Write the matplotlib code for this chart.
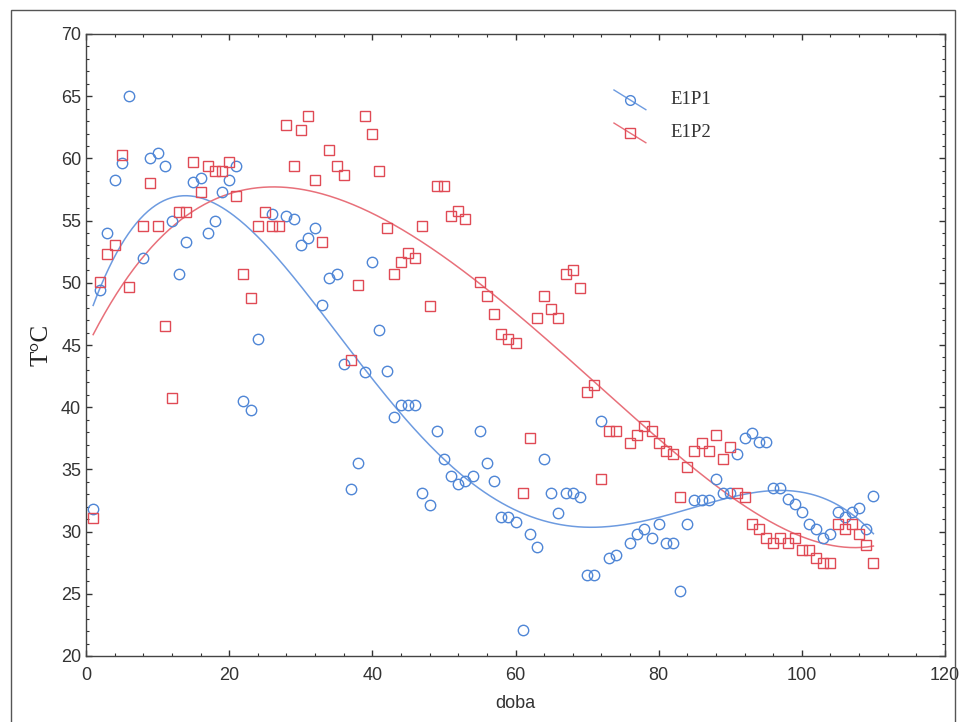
import numpy as np
import matplotlib
matplotlib.use("Agg")
import matplotlib.pyplot as plt
from matplotlib.lines import Line2D
from matplotlib.legend_handler import HandlerLine2D
from matplotlib.patches import Rectangle
from matplotlib.ticker import MultipleLocator

# ---- data ----
e1p1_x = [1, 2, 3, 4, 5, 6, 8, 9, 10, 11, 12, 13, 14, 15, 16, 17, 18, 19, 20, 21,
          22, 23, 24, 26, 28, 29, 30, 31, 32, 33, 34, 35, 36, 37, 38, 39, 40, 41, 42,
          43, 44, 45, 46, 47, 48, 49, 50, 51, 52, 53, 54, 55, 56, 57, 58, 59, 60, 61,
          62, 63, 64, 65, 66, 67, 68, 69, 70, 71, 72, 73, 74, 76, 77, 78, 79, 80, 81,
          82, 83, 84, 85, 86, 87, 88, 89, 90, 91, 92, 93, 94, 95, 96, 97, 98, 99, 100,
          101, 102, 103, 104, 105, 106, 107, 108, 109, 110]
e1p1_y = [31.8, 49.4, 54.0, 58.3, 59.6, 65.0, 52.0, 60.0, 60.4, 59.4, 55.0, 50.7, 53.3,
          58.1, 58.4, 54.0, 55.0, 57.3, 58.3, 59.4, 40.5, 39.8, 45.5, 55.5, 55.4, 55.1,
          53.0, 53.6, 54.4, 48.2, 50.4, 50.7, 43.5, 33.4, 35.5, 42.8, 51.7, 46.2, 42.9,
          39.2, 40.2, 40.2, 40.2, 33.1, 32.1, 38.1, 35.8, 34.5, 33.8, 34.1, 34.5, 38.1,
          35.5, 34.1, 31.2, 31.2, 30.8, 22.1, 29.8, 28.8, 35.8, 33.1, 31.5, 33.1, 33.1,
          32.8, 26.5, 26.5, 38.9, 27.9, 28.1, 29.1, 29.8, 30.2, 29.5, 30.6, 29.1, 29.1,
          25.2, 30.6, 32.5, 32.5, 32.5, 34.2, 33.1, 33.1, 36.2, 37.5, 37.9, 37.2, 37.2,
          33.5, 33.5, 32.6, 32.2, 31.6, 30.6, 30.2, 29.5, 29.8, 31.6, 31.2, 31.6, 31.9,
          30.2, 32.9]

e1p2_x = [1, 2, 3, 4, 5, 6, 8, 9, 10, 11, 12, 13, 14, 15, 16, 17, 18, 19, 20, 21,
          22, 23, 24, 25, 26, 27, 28, 29, 30, 31, 32, 33, 34, 35, 36, 37, 38, 39, 40,
          41, 42, 43, 44, 45, 46, 47, 48, 49, 50, 51, 52, 53, 55, 56, 57, 58, 59, 60,
          61, 62, 63, 64, 65, 66, 67, 68, 69, 70, 71, 72, 73, 74, 76, 77, 78, 79, 80,
          81, 82, 83, 84, 85, 86, 87, 88, 89, 90, 91, 92, 93, 94, 95, 96, 97, 98, 99,
          100, 101, 102, 103, 104, 105, 106, 107, 108, 109, 110]
e1p2_y = [31.1, 50.1, 52.3, 53.0, 60.3, 49.7, 54.6, 58.0, 54.6, 46.5, 40.7, 55.7, 55.7,
          59.7, 57.3, 59.4, 59.0, 59.0, 59.7, 57.0, 50.7, 48.8, 54.6, 55.7, 54.6, 54.6,
          62.7, 59.4, 62.3, 63.4, 58.3, 53.3, 60.7, 59.4, 58.7, 43.8, 49.8, 63.4, 62.0,
          59.0, 54.4, 50.7, 51.7, 52.4, 52.0, 54.6, 48.1, 57.8, 57.8, 55.4, 55.8, 55.1,
          50.1, 48.9, 47.5, 45.9, 45.5, 45.2, 33.1, 37.5, 47.2, 48.9, 47.9, 47.2, 50.7,
          51.0, 49.6, 41.2, 41.8, 34.2, 38.1, 38.1, 37.1, 37.8, 38.5, 38.1, 37.1, 36.5,
          36.2, 32.8, 35.2, 36.5, 37.1, 36.5, 37.8, 35.8, 36.8, 33.1, 32.8, 30.6, 30.2,
          29.5, 29.1, 29.5, 29.1, 29.5, 28.5, 28.5, 27.9, 27.5, 27.5, 30.6, 30.2, 30.6,
          29.8, 28.9, 27.5]

series_names = ["E1P1", "E1P2"]
x_ticks = [0, 20, 40, 60, 80, 100, 120]
y_ticks = [20, 25, 30, 35, 40, 45, 50, 55, 60, 65, 70]

blue = "#4f86d6"
red = "#e04a55"
blue_line = "#6d9be0"
red_line = "#e8707a"

fig = plt.figure(figsize=(9.6, 7.22), dpi=100)
fig.patch.set_facecolor("white")
ax = fig.add_axes([86 / 960, 1 - 656 / 722, (945 - 86) / 960, (656 - 34) / 722])

# outer frame
fig.patches.append(Rectangle((11 / 960, -0.02), (955 - 11) / 960, 1.02 - 10 / 722,
                             transform=fig.transFigure, fill=False, ec="#555555", lw=1.0))

ms = 7.5
ax.plot(e1p1_x, e1p1_y, ls="none", marker="o", ms=ms, mfc="none", mec=blue, mew=1.0, zorder=3)
ax.plot(e1p2_x, e1p2_y, ls="none", marker="s", ms=ms - 0.5, mfc="none", mec=red, mew=1.0, zorder=3)

# polynomial fits
for xs, ys, col in [(e1p1_x, e1p1_y, blue_line), (e1p2_x, e1p2_y, red_line)]:
    p = np.polynomial.Polynomial.fit(xs, ys, 5)
    xx = np.linspace(min(xs), max(xs), 400)
    ax.plot(xx, p(xx), color=col, lw=1.1, zorder=2)

ax.set_xlim(0, 120)
ax.set_ylim(20, 70)
ax.set_xticks(x_ticks)
ax.set_yticks(y_ticks)
ax.xaxis.set_minor_locator(MultipleLocator(4))
ax.yaxis.set_minor_locator(MultipleLocator(1))
ax.tick_params(which="both", direction="in", top=True, right=True, colors="#333333",
               labelcolor="#333333")
ax.tick_params(which="major", length=4, width=1.0, labelsize=13)
ax.tick_params(which="minor", length=2.5, width=0.8)
for lab in ax.get_xticklabels() + ax.get_yticklabels():
    lab.set_family("Liberation Sans")
ax.tick_params(axis="x", pad=8)
for s in ax.spines.values():
    s.set_color("#444444")
    s.set_linewidth(1.0)

ax.set_xlabel("doba", family="Liberation Sans", fontsize=13, color="#333333", labelpad=8)
ax.set_ylabel("T°C", family="Liberation Serif", fontsize=18, color="#222222", labelpad=6)


class DiagHandler(HandlerLine2D):
    def create_artists(self, legend, orig_handle, xdescent, ydescent, width, height,
                       fontsize, trans):
        x0, x1 = -xdescent, -xdescent + width
        y0, y1 = -ydescent + height * 1.1, -ydescent - height * 0.4
        line = Line2D([x0, x1], [y0, y1], color=orig_handle.get_color(), lw=1.0)
        mk = Line2D([(x0 + x1) / 2], [(y0 + y1) / 2], ls="none",
                    marker=orig_handle.get_marker(), ms=orig_handle.get_markersize(),
                    mfc="none", mec=orig_handle.get_markeredgecolor(), mew=1.0)
        line.set_transform(trans)
        mk.set_transform(trans)
        return [line, mk]


h1 = Line2D([], [], color=blue_line, marker="o", mec=blue, ms=7)
h2 = Line2D([], [], color=red_line, marker="s", mec=red, ms=6.5)
leg = ax.legend([h1, h2], series_names, loc="upper left", bbox_to_anchor=(0.595, 0.935),
                frameon=False, handler_map={Line2D: DiagHandler()}, handlelength=1.7,
                handletextpad=1.3, labelspacing=0.85,
                prop={"family": "Liberation Serif", "size": 13.5})
for t in leg.get_texts():
    t.set_color("#333333")

fig.savefig("out.png", dpi=100, facecolor="white")
